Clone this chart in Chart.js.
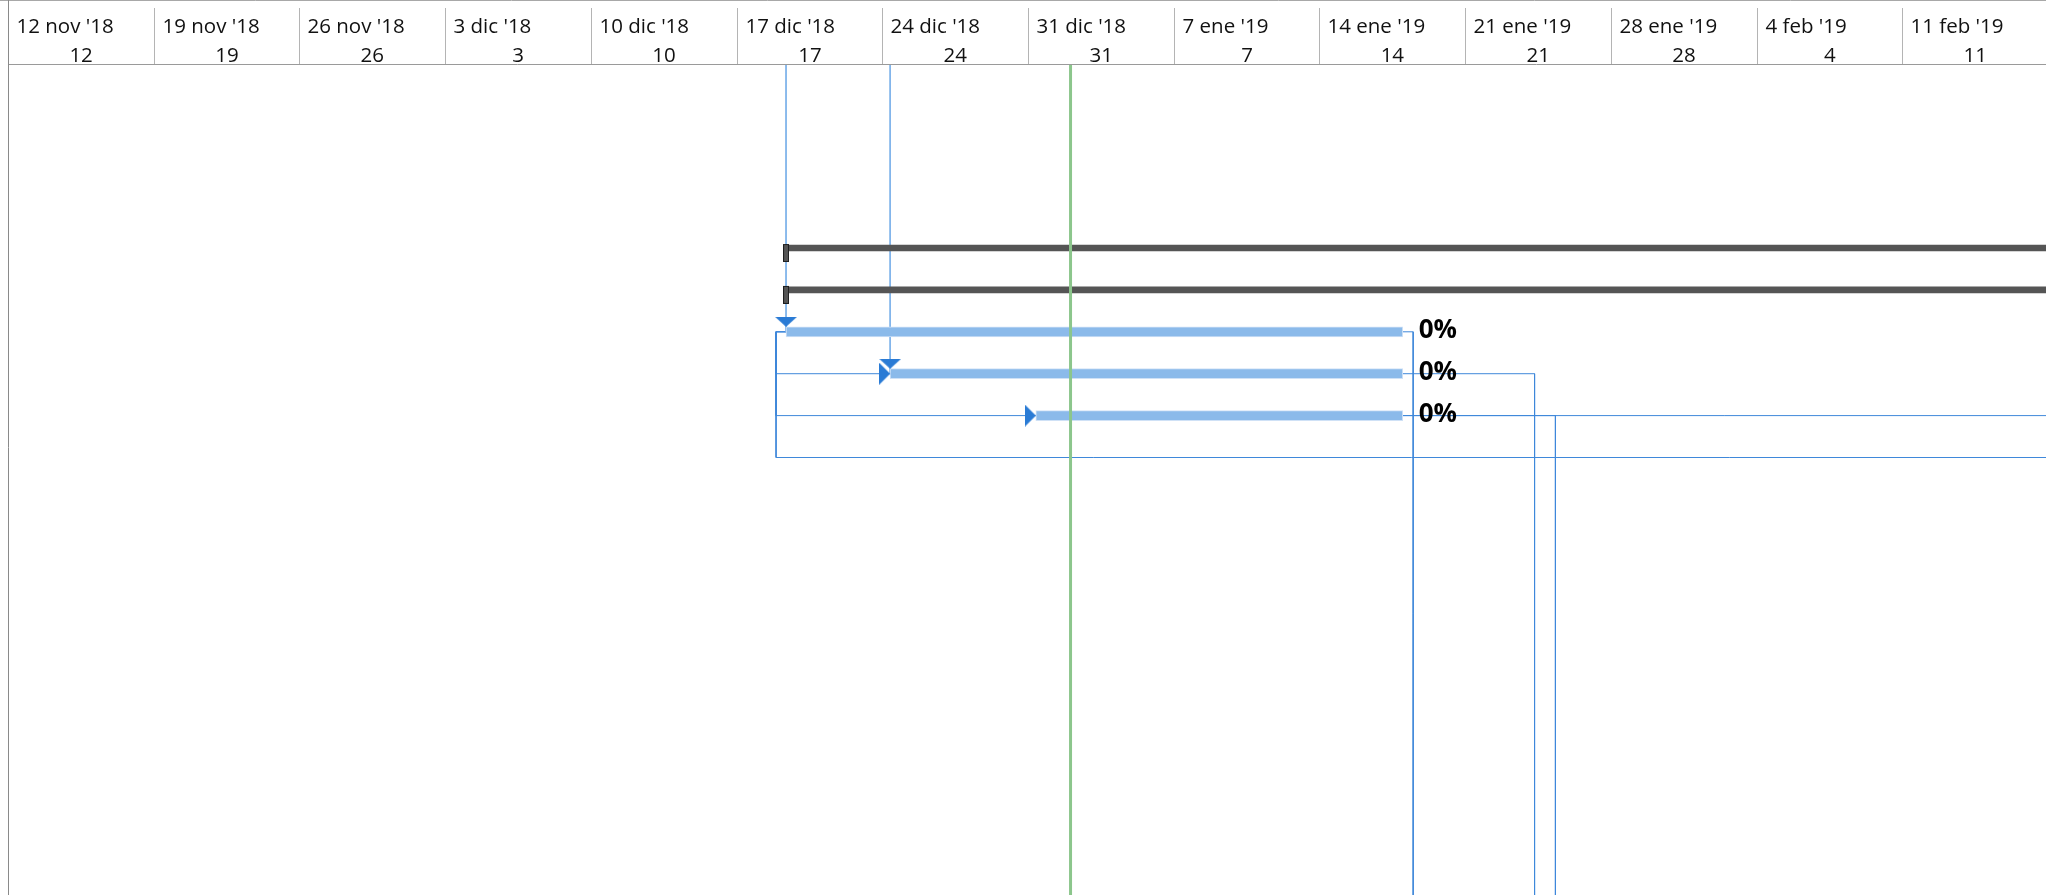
<!DOCTYPE html>
<html>
<head>
<meta charset="utf-8">
<title>Diagrama de Gantt</title>
<script src="https://cdn.jsdelivr.net/npm/chart.js@4.4.1/dist/chart.umd.min.js"></script>
<style>
  html, body { margin: 0; padding: 0; background: #fff; overflow: hidden; }
  #wrap { width: 2046px; height: 895px; }
</style>
</head>
<body>
<div id="wrap"><canvas id="gantt" width="2046" height="895"></canvas></div>
<script>
// timescale: one column per week, starting Monday 12 nov 2018
const timelineStart = '2018-11-12 00:00';
const weekLabels = ["12 nov '18", "19 nov '18", "26 nov '18", "3 dic '18", "10 dic '18", "17 dic '18", "24 dic '18",
  "31 dic '18", "7 ene '19", "14 ene '19", "21 ene '19", "28 ene '19", "4 feb '19", "11 feb '19"];
const dayLabels = ['12', '19', '26', '3', '10', '17', '24', '31', '7', '14', '21', '28', '4', '11'];
const statusDate = '2019-01-02 01:00';

// summary rows (run past the right edge)
const summaryRows = [4, 5];
const summaryStarts = ['2018-12-19 09:00', '2018-12-19 09:00'];
const summaryEnds = ['2019-04-26 17:00', '2019-04-26 17:00'];

// tasks
const taskRows = [6, 7, 8];
const taskStarts = ['2018-12-19 09:00', '2018-12-24 09:00', '2018-12-31 09:00'];
const taskEnds = ['2019-01-18 00:00', '2019-01-18 00:00', '2019-01-18 00:00'];
const taskProgress = [0, 0, 0];

// links to tasks outside the visible rows
const predecessorOf = [0, 1];               // tasks fed from a row above the view
const successorStarts = ['2019-01-18 12:00', '2019-01-24 08:00', '2019-01-25 08:00'];  // rows below the view
const startLinkRows = [7, 8, 9];            // start-to-start links leaving task 1
const sideLinkRows = [8];                   // link running off to the right

const BLUE_BAR = '#8bbaea';
const LINK = '#3f88da';
const LINK_LIGHT = '#7db2ea';
const ARROW = '#2a7bd5';
const GAP = 0.48;      // days, horizontal stub before a link turns
const FAR = 400;

const DAY_MS = 86400000;
const parseDate = s => {
  const [d, t = '00:00'] = s.split(' ');
  const [Y, M, D] = d.split('-').map(Number);
  const [h, m] = t.split(':').map(Number);
  return Date.UTC(Y, M - 1, D, h, m);
};
const base = parseDate(timelineStart);
const toDays = s => (parseDate(s) - base) / DAY_MS;

// arrow heads / caps as small canvases, centred on the data point
function makeImg(w, h, draw) {
  const c = document.createElement('canvas');
  c.width = w; c.height = h;
  draw(c.getContext('2d'));
  return c;
}
const arrowDown = makeImg(22, 30, g => {
  g.fillStyle = ARROW; g.beginPath();
  g.moveTo(0, 0); g.lineTo(22, 0); g.lineTo(11, 10); g.closePath(); g.fill();
});
const arrowRight = makeImg(22, 22, g => {
  g.fillStyle = ARROW; g.beginPath();
  g.moveTo(0, 0); g.lineTo(11, 11); g.lineTo(0, 22); g.closePath(); g.fill();
});
const summaryCap = makeImg(6, 28, g => {
  g.fillStyle = '#555'; g.fillRect(0, 10, 6, 18);
  g.strokeStyle = '#1e1e1e'; g.lineWidth = 1; g.strokeRect(0.5, 10.5, 5, 17);
});

const tStart = taskStarts.map(toDays);
const tEnd = taskEnds.map(toDays);

// link polylines
const links = [];
predecessorOf.forEach(i => {
  links.push({ pts: [{ x: tStart[i], y: -FAR }, { x: tStart[i], y: taskRows[i] }], color: LINK_LIGHT });
});
startLinkRows.forEach(r => {
  const ti = taskRows.indexOf(r);
  const endX = ti >= 0 ? tStart[ti] : FAR;
  links.push({ pts: [
    { x: tStart[0], y: taskRows[0] }, { x: tStart[0] - GAP, y: taskRows[0] },
    { x: tStart[0] - GAP, y: r }, { x: endX, y: r }
  ], color: LINK });
});
successorStarts.forEach((s, i) => {
  const sx = toDays(s);
  links.push({ pts: [{ x: tEnd[i], y: taskRows[i] }, { x: sx, y: taskRows[i] }, { x: sx, y: FAR }], color: LINK });
});
sideLinkRows.forEach(r => {
  const ti = taskRows.indexOf(r);
  links.push({ pts: [{ x: tEnd[ti], y: r }, { x: FAR, y: r }], color: LINK });
});

const datasets = [];
datasets.push({
  type: 'line', order: 0,
  data: [{ x: toDays(statusDate), y: -FAR }, { x: toDays(statusDate), y: FAR }],
  borderColor: '#8cc68c', borderWidth: 3, pointRadius: 0
});
datasets.push({
  type: 'scatter', order: 1,
  data: predecessorOf.map(i => ({ x: tStart[i], y: taskRows[i] })),
  pointStyle: arrowDown, pointRadius: 5
});
datasets.push({
  type: 'scatter', order: 1,
  data: startLinkRows.filter(r => taskRows.includes(r)).map(r => ({ x: tStart[taskRows.indexOf(r)], y: r })),
  pointStyle: arrowRight, pointRadius: 5
});
datasets.push({
  type: 'scatter', order: 2,
  data: summaryRows.map((r, i) => ({ x: toDays(summaryStarts[i]), y: r })),
  pointStyle: summaryCap, pointRadius: 5
});
datasets.push({
  type: 'bar', order: 3, indexAxis: 'y', grouped: false,
  data: summaryRows.map((r, i) => ({ x: [toDays(summaryStarts[i]), toDays(summaryEnds[i])], y: r })),
  backgroundColor: '#555555', barThickness: 6, borderWidth: 0
});
datasets.push({
  type: 'bar', order: 3, indexAxis: 'y', grouped: false,
  data: taskRows.map((r, i) => ({ x: [tStart[i], tEnd[i]], y: r })),
  backgroundColor: BLUE_BAR, borderColor: '#cfe1f6', borderWidth: 1, borderSkipped: false, barThickness: 10
});
links.forEach(l => datasets.push({
  type: 'line', order: 4, data: l.pts,
  borderColor: l.color, borderWidth: 1, pointRadius: 0, tension: 0
}));

const headerPlugin = {
  id: 'header',
  afterDraw(chart) {
    const { ctx, chartArea } = chart;
    const x = chart.scales.x;
    const W = chart.width, H = chart.height;
    const hline = (x1, x2, y, c) => { ctx.strokeStyle = c; ctx.beginPath(); ctx.moveTo(x1, y); ctx.lineTo(x2, y); ctx.stroke(); };
    const vline = (px, y1, y2, c) => { ctx.strokeStyle = c; ctx.beginPath(); ctx.moveTo(px, y1); ctx.lineTo(px, y2); ctx.stroke(); };
    ctx.save();
    ctx.lineWidth = 1;
    ctx.fillStyle = '#fff';
    ctx.fillRect(0, 0, W, chartArea.top - 1);
    hline(0, W, 0.5, '#a8a8a8');
    hline(chartArea.left, W, chartArea.top - 0.5, '#9a9a9a');
    ctx.fillStyle = '#111';
    ctx.textBaseline = 'middle';
    weekLabels.forEach((lab, i) => {
      const px = Math.round(x.getPixelForValue(i * 7)) + 0.5;
      const nx = x.getPixelForValue((i + 1) * 7);
      vline(px, 8, chartArea.top - 1, '#b4b4b4');
      ctx.font = '20.5px "Open Sans"';
      ctx.textAlign = 'left';
      ctx.fillText(lab, px + 8, 27);
      ctx.textAlign = 'center';
      ctx.fillText(dayLabels[i], (px + nx) / 2, 56);
    });
    vline(chartArea.left + 0.5, 0, H, '#8a8a8a');
    // progress labels
    ctx.font = 'bold 26px "Open Sans"';
    ctx.textAlign = 'left';
    ctx.fillStyle = '#000';
    taskRows.forEach((r, i) => {
      ctx.fillText(taskProgress[i] + '%', x.getPixelForValue(tEnd[i]) + 16, chart.scales.y.getPixelForValue(r) - 1);
    });
    ctx.restore();
  }
};

new Chart(document.getElementById('gantt'), {
  type: 'bar',
  data: { datasets },
  options: {
    responsive: false,
    animation: false,
    events: [],
    layout: { autoPadding: false, padding: { top: 65, left: 8, right: 0, bottom: 0 } },
    scales: {
      x: { type: 'linear', display: false, min: 0, max: 97.9, offset: false },
      y: { type: 'linear', display: false, min: -0.368, max: 19.442, reverse: true, offset: false }
    },
    plugins: { legend: { display: false }, tooltip: { enabled: false } }
  },
  plugins: [headerPlugin]
});
</script>
</body>
</html>
